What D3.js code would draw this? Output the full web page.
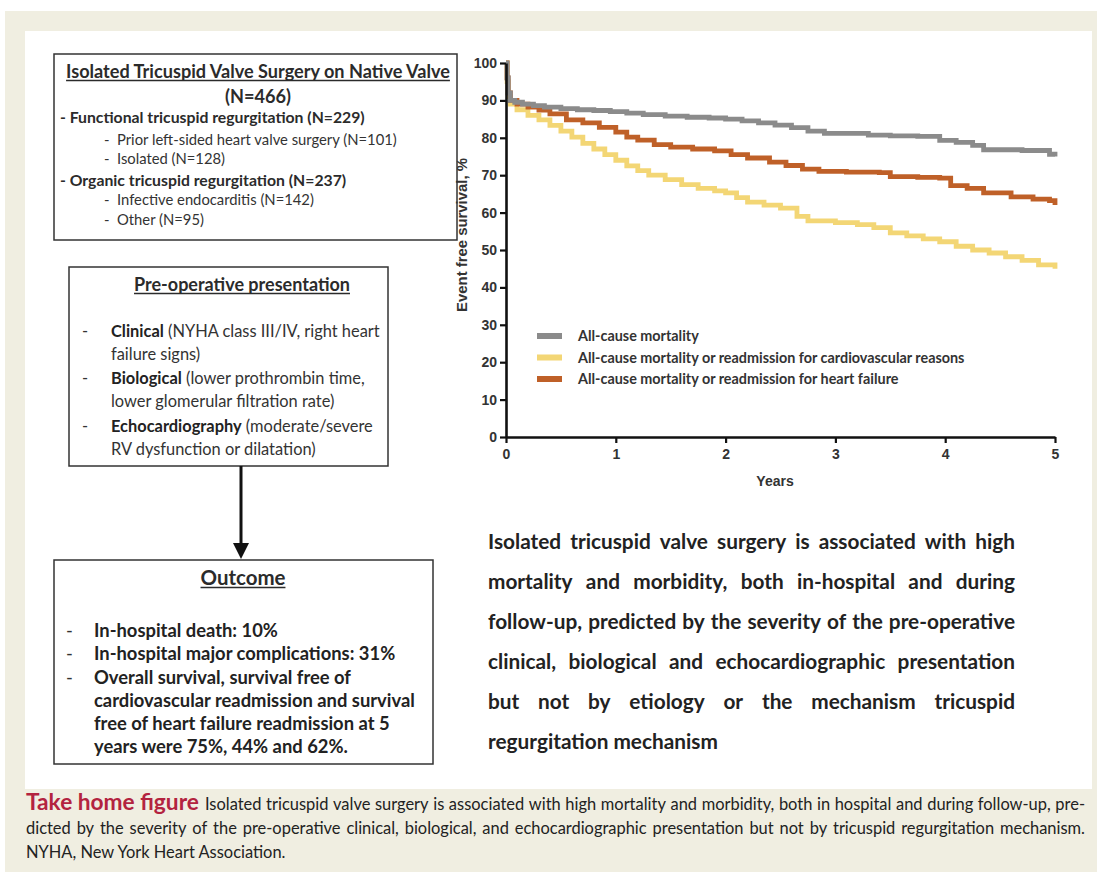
<!DOCTYPE html>
<html><head><meta charset="utf-8">
<script src="https://cdn.jsdelivr.net/npm/d3@7"></script>
<style>
html,body{margin:0;padding:0;background:#fff;}
svg{display:block;}
</style></head>
<body>
<svg id="fig" width="1097" height="876"></svg>
<script>
// ---------- DATA ----------
const yTicks = [0,10,20,30,40,50,60,70,80,90,100];
const xTicks = [0,1,2,3,4,5];
const seriesNames = [
  "All-cause mortality",
  "All-cause mortality or readmission for cardiovascular reasons",
  "All-cause mortality or readmission for heart failure"
];
const seriesColors = ["#8b8b8b","#f3d675","#bf6028"];

const mortalityT = [0,0.01,0.02,0.04,0.08,0.15,0.25,0.35,0.5,0.65,0.8,0.95,1.1,1.25,1.45,1.65,1.85,2.0,2.15,2.3,2.45,2.6,2.75,2.9,3.3,3.5,3.75,3.95,4.1,4.25,4.35,4.7,4.95,5.0];
const mortalityV = [100,96,92,90,89.5,89,88.6,88.2,87.8,87.5,87.3,87.0,86.6,86.2,85.8,85.5,85.3,85.0,84.5,84.0,83.4,82.7,81.8,81.2,80.7,80.5,80.4,79.3,78.8,78.0,76.8,76.6,75.6,75.0];

const cvT = [0,0.01,0.02,0.04,0.1,0.2,0.3,0.4,0.5,0.6,0.7,0.8,0.9,1.0,1.1,1.2,1.3,1.45,1.6,1.75,1.9,2.0,2.1,2.2,2.35,2.5,2.65,2.75,3.0,3.2,3.35,3.5,3.65,3.8,3.95,4.1,4.25,4.4,4.55,4.7,4.85,5.0];
const cvV = [100,95,91,89,87.5,86,84.8,83.3,81.8,80.2,78.5,77.0,75.5,74.0,72.5,71.2,70.0,68.8,67.5,66.5,65.8,65.3,64.0,62.8,62.0,61.2,59.0,57.8,57.3,56.8,56.0,54.6,53.8,53.0,52.2,51.0,50.0,49.2,48.2,47.2,46.0,45.0];

const hfT = [0,0.01,0.02,0.04,0.1,0.2,0.3,0.4,0.55,0.7,0.85,1.0,1.1,1.2,1.35,1.5,1.7,1.9,2.05,2.2,2.4,2.55,2.7,2.85,3.1,3.4,3.5,3.75,3.95,4.05,4.2,4.35,4.6,4.8,4.95,5.0];
const hfV = [100,96,92,90,89,88.2,87.4,86.4,84.8,84.0,82.8,81.5,80.2,79.4,78.2,77.5,77.0,76.5,75.5,74.6,73.5,72.6,71.6,71.0,70.8,70.7,69.6,69.4,69.2,67.2,66.5,65.3,64.2,63.6,63.2,62.0];

const box1Title = "Isolated Tricuspid Valve Surgery on Native Valve";
const box1N = "(N=466)";
const box1Lines = [
  {t:"- Functional tricuspid regurgitation (N=229)", b:true, lvl:0},
  {t:"Prior left-sided heart valve surgery (N=101)", b:false, lvl:1},
  {t:"Isolated (N=128)", b:false, lvl:1},
  {t:"- Organic tricuspid regurgitation (N=237)", b:true, lvl:0},
  {t:"Infective endocarditis (N=142)", b:false, lvl:1},
  {t:"Other (N=95)", b:false, lvl:1}
];
const box2Title = "Pre-operative presentation";
const box2Items = [
  [{b:"Clinical", r:" (NYHA class III/IV, right heart"}, {b:"", r:"failure signs)"}],
  [{b:"Biological", r:" (lower prothrombin time,"}, {b:"", r:"lower glomerular filtration rate)"}],
  [{b:"Echocardiography", r:" (moderate/severe"}, {b:"", r:"RV dysfunction or dilatation)"}]
];
const box3Title = "Outcome";
const box3Items = [
  ["In-hospital death: 10%"],
  ["In-hospital major complications: 31%"],
  ["Overall survival, survival free of","cardiovascular readmission and survival","free of heart failure readmission at 5","years were 75%, 44% and 62%."]
];
const summaryLines = [
  "Isolated tricuspid valve surgery is associated with high",
  "mortality and morbidity, both in-hospital and during",
  "follow-up, predicted by the severity of the pre-operative",
  "clinical, biological and echocardiographic presentation",
  "but not by etiology or the mechanism tricuspid",
  "regurgitation mechanism"
];
const captionLabel = "Take home figure";
const captionLines = [
  "Isolated tricuspid valve surgery is associated with high mortality and morbidity, both in hospital and during follow-up, pre-",
  "dicted by the severity of the pre-operative clinical, biological, and echocardiographic presentation but not by tricuspid regurgitation mechanism.",
  "NYHA, New York Heart Association."
];

// ---------- DRAW ----------
const svg = d3.select("#fig");
const BOXFONT = "Lato, 'Open Sans', sans-serif";
const AX = "'Liberation Sans', Arial, sans-serif";
const TXT = "#2b2b2b";

svg.append("rect").attr("x",5).attr("y",11).attr("width",1092).attr("height",861).attr("fill","#f0eee1");
svg.append("rect").attr("x",25).attr("y",31).attr("width",1067).attr("height",758).attr("fill","#fff");

function measure(str, font, size, weight){
  const t = svg.append("text").attr("font-family",font).attr("font-size",size).attr("font-weight",weight)
    .style("white-space","pre").text(str);
  const w = t.node().getComputedTextLength(); t.remove(); return w;
}
function fit(str, font, weight, target){ return 100*target/measure(str,font,100,weight); }
function justify(g, str, x0, x1, y, font, size, weight, color){
  const words = str.split(" ");
  const ws = words.map(w=>measure(w,font,size,weight));
  const total = d3.sum(ws);
  const gap = (x1-x0-total)/(words.length-1);
  let x = x0;
  words.forEach((w,i)=>{
    g.append("text").attr("x",x).attr("y",y).attr("font-family",font).attr("font-size",size)
      .attr("font-weight",weight).attr("fill",color).text(w);
    x += ws[i]+gap;
  });
}
function underlined(g, str, cx, y, size){
  const t = g.append("text").attr("x",cx).attr("y",y).attr("text-anchor","middle")
    .attr("font-family",BOXFONT).attr("font-size",size).attr("font-weight","bold").attr("fill",TXT).text(str);
  const w = t.node().getComputedTextLength();
  g.append("line").attr("x1",cx-w/2).attr("x2",cx+w/2).attr("y1",y+2.5).attr("y2",y+2.5)
    .attr("stroke",TXT).attr("stroke-width",1.3);
}

// font sizes fitted to the reference text widths
const sB1T = fit(box1Title, BOXFONT, "bold", 384);
const sB1B = fit(box1Lines[0].t, BOXFONT, "bold", 305);
const sB1N = fit(box1Lines[1].t, BOXFONT, "normal", 280);
const sB2T = fit(box2Title, BOXFONT, "bold", 216);
const sB2 = 100*269/(measure("Clinical",BOXFONT,100,"bold")+measure(" (NYHA class III/IV, right heart",BOXFONT,100,"normal"));
const sB3T = fit(box3Title, BOXFONT, "bold", 85);
const sB3 = fit(box3Items[2][1], BOXFONT, "bold", 321);
const sSum = fit(summaryLines[5], BOXFONT, "bold", 230);
const sLeg = fit(seriesNames[1], BOXFONT, "bold", 387);
const sYT = fit("Event free survival, %", AX, "bold", 154);

// Box 1
const b1 = svg.append("g");
b1.append("rect").attr("x",54).attr("y",54).attr("width",403).attr("height",186)
  .attr("fill","#fff").attr("stroke","#333").attr("stroke-width",1.5);
underlined(b1, box1Title, 258, 78, sB1T);
b1.append("text").attr("x",258).attr("y",103).attr("text-anchor","middle").attr("font-family",BOXFONT)
  .attr("font-size",sB1T).attr("font-weight","bold").attr("fill",TXT).text(box1N);
const b1y = [123,145,164,186,205,225];
box1Lines.forEach((d,i)=>{
  if(d.lvl===0){
    b1.append("text").attr("x",60).attr("y",b1y[i]).attr("font-family",BOXFONT).attr("font-size",sB1B)
      .attr("font-weight","bold").attr("fill",TXT).text(d.t);
  } else {
    b1.append("text").attr("x",104).attr("y",b1y[i]).attr("font-family",BOXFONT).attr("font-size",sB1N)
      .attr("fill","#333").text("-");
    b1.append("text").attr("x",117).attr("y",b1y[i]).attr("font-family",BOXFONT).attr("font-size",sB1N)
      .attr("fill","#333").text(d.t);
  }
});

// Box 2
const b2 = svg.append("g");
b2.append("rect").attr("x",69).attr("y",267).attr("width",319).attr("height",199)
  .attr("fill","#fff").attr("stroke","#333").attr("stroke-width",1.5);
underlined(b2, box2Title, 242, 291, sB2T);
const b2y = [[337,360],[384,407],[432,455]];
box2Items.forEach((item,i)=>{
  b2.append("text").attr("x",82).attr("y",b2y[i][0]).attr("font-family",BOXFONT).attr("font-size",sB2)
    .attr("fill","#333").text("-");
  item.forEach((ln,j)=>{
    const t = b2.append("text").attr("x",111).attr("y",b2y[i][j]).attr("font-family",BOXFONT)
      .attr("font-size",sB2).attr("fill","#333").style("white-space","pre");
    if(ln.b) t.append("tspan").attr("font-weight","bold").attr("fill","#222").text(ln.b);
    t.append("tspan").text(ln.r);
  });
});

// Arrow
const arr = svg.append("g");
arr.append("line").attr("x1",241).attr("x2",241).attr("y1",466).attr("y2",546)
  .attr("stroke","#111").attr("stroke-width",3);
arr.append("path").attr("d","M233,543 L249,543 L241,559 Z").attr("fill","#111");

// Box 3
const b3 = svg.append("g");
b3.append("rect").attr("x",54).attr("y",560).attr("width",379).attr("height",204)
  .attr("fill","#fff").attr("stroke","#333").attr("stroke-width",1.5);
underlined(b3, box3Title, 243, 585, sB3T);
const b3y = [[637],[660],[684,707,730,753]];
box3Items.forEach((item,i)=>{
  b3.append("text").attr("x",66).attr("y",b3y[i][0]).attr("font-family",BOXFONT).attr("font-size",sB3)
    .attr("fill","#333").text("-");
  item.forEach((ln,j)=>{
    b3.append("text").attr("x",94).attr("y",b3y[i][j]).attr("font-family",BOXFONT).attr("font-size",sB3)
      .attr("font-weight","bold").attr("fill","#222").text(ln);
  });
});

// Chart
const x = d3.scaleLinear().domain([0,5]).range([506,1055]);
const y = d3.scaleLinear().domain([0,100]).range([437,63]);
const line = d3.line().x(d=>x(d[0])).y(d=>y(d[1])).curve(d3.curveStepAfter);
const series = [
  d3.zip(mortalityT, mortalityV),
  d3.zip(cvT, cvV),
  d3.zip(hfT, hfV)
];
const chart = svg.append("g");
[1,2,0].forEach(i=>{
  chart.append("path").attr("d",line(series[i])).attr("fill","none")
    .attr("stroke",seriesColors[i]).attr("stroke-width",4.8);
});
const yAxis = chart.append("g").attr("transform","translate(506,0)")
  .call(d3.axisLeft(y).tickValues(yTicks).tickFormat(d3.format("d")).tickSize(6).tickSizeOuter(0).tickPadding(3));
const xAxis = chart.append("g").attr("transform","translate(0,437)")
  .call(d3.axisBottom(x).tickValues(xTicks).tickFormat(d3.format("d")).tickSize(6).tickSizeOuter(0).tickPadding(6));
[yAxis,xAxis].forEach(a=>{
  a.select(".domain").attr("stroke","#111").attr("stroke-width",2.6);
  a.selectAll(".tick line").attr("stroke","#111").attr("stroke-width",2.2);
  a.selectAll(".tick text").attr("font-family",AX).attr("font-size",14).attr("font-weight","bold").attr("fill","#333");
});
chart.append("text").attr("transform","translate(467,235) rotate(-90)").attr("text-anchor","middle")
  .attr("font-family",AX).attr("font-size",sYT).attr("font-weight","bold").attr("fill","#333")
  .text("Event free survival, %");
chart.append("text").attr("x",775).attr("y",486).attr("text-anchor","middle")
  .attr("font-family",AX).attr("font-size",14).attr("font-weight","bold").attr("fill","#333").text("Years");

// Legend
const lg = chart.append("g");
seriesNames.forEach((n,i)=>{
  const yy = 336 + i*21.5;
  lg.append("rect").attr("x",537).attr("y",yy-3).attr("width",25).attr("height",6).attr("fill",seriesColors[i]);
  lg.append("text").attr("x",578).attr("y",yy+5).attr("font-family",BOXFONT).attr("font-size",sLeg)
    .attr("font-weight","bold").attr("fill","#333").text(n);
});

// Summary text
const sg = svg.append("g");
summaryLines.forEach((s,i)=>{
  const yy = 549 + i*40;
  if(i<summaryLines.length-1) justify(sg, s, 488, 1015, yy, BOXFONT, sSum, "bold", "#222");
  else sg.append("text").attr("x",488).attr("y",yy).attr("font-family",BOXFONT).attr("font-size",sSum)
    .attr("font-weight","bold").attr("fill","#222").text(s);
});

// Caption
const cg = svg.append("g");
const CF = "Lato, sans-serif";
const sLab = fit(captionLabel, CF, "bold", 173);
const sCap = fit(captionLines[1], CF, "normal", 1030);
cg.append("text").attr("x",26).attr("y",810).attr("font-family",CF).attr("font-size",sLab)
  .attr("font-weight","bold").attr("fill","#b3233f").text(captionLabel);
justify(cg, captionLines[0], 26+173+6, 1085, 810, CF, sCap, "normal", "#222");
justify(cg, captionLines[1], 26, 1085, 834, CF, sCap, "normal", "#222");
cg.append("text").attr("x",26).attr("y",858).attr("font-family",CF).attr("font-size",sCap).attr("fill","#222").text(captionLines[2]);
</script>
</body></html>
